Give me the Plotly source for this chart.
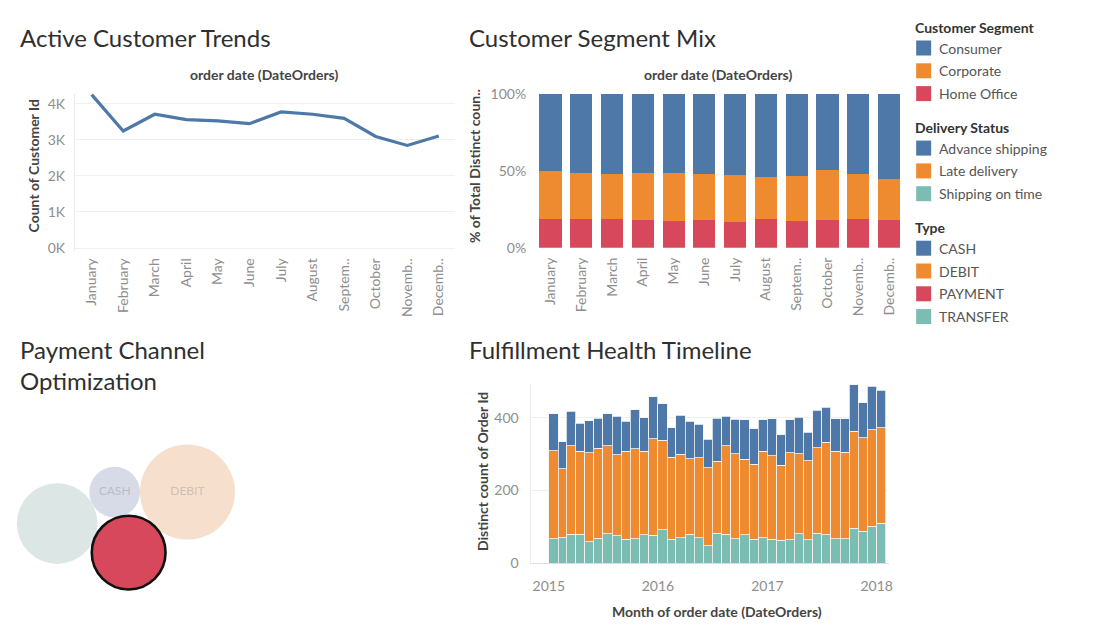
import math
import pandas as pd
import plotly.graph_objects as go

W, H = 1100, 641
FONT = "Lato"
# the page shows the paper area in a slightly smaller box (measured): map target pixels onto it
VIEW_W, VIEW_H, VIEW_TOP = 1097.0, 624.0, 8.5


def px(x):
    return x / VIEW_W


def py(y):
    return 1 - (y - VIEW_TOP) / VIEW_H


# ---------------- data ----------------
month_labels = ["January", "February", "March", "April", "May", "June", "July",
                "August", "Septem..", "October", "Novemb..", "Decemb.."]

active_customers = [4255, 3245, 3710, 3560, 3525, 3450, 3775, 3710, 3595, 3095, 2845, 3105]

segments = ["Consumer", "Corporate", "Home Office"]
consumer_pct = [50.4, 51.3, 52.0, 51.3, 51.3, 52.0, 52.6, 54.1, 53.5, 49.6, 52.0, 55.6]
corporate_pct = [31.2, 30.3, 29.6, 30.9, 31.2, 30.2, 30.7, 27.5, 29.0, 32.6, 29.6, 26.6]
home_office_pct = [18.4, 18.4, 18.4, 17.8, 17.5, 17.8, 16.7, 18.4, 17.5, 17.8, 18.4, 17.8]

delivery_statuses = ["Advance shipping", "Late delivery", "Shipping on time"]
timeline_start = "2015-01-01"
timeline_months = 37
shipping_on_time = [67, 71, 79, 79, 58, 68, 80, 75, 66, 67, 78, 77, 92, 66, 70, 79, 70, 48, 82, 79,
                    67, 78, 65, 70, 66, 63, 64, 80, 64, 82, 78, 67, 67, 96, 88, 101, 110]
late_delivery = [243, 189, 244, 229, 246, 249, 243, 223, 242, 248, 230, 265, 247, 226, 230, 208, 220,
                 215, 199, 244, 234, 208, 208, 238, 230, 207, 240, 221, 218, 236, 255, 241, 238, 268,
                 257, 266, 263]
advance_shipping = [102, 75, 95, 78, 88, 82, 89, 107, 83, 108, 93, 116, 100, 81, 108, 104, 93, 78, 118,
                    82, 96, 109, 97, 87, 102, 84, 91, 101, 79, 103, 97, 90, 93, 128, 97, 120, 103]

payment_types = ["CASH", "DEBIT", "PAYMENT", "TRANSFER"]
payment_counts = [19616, 69295, 41725, 49883]
labelled_types = ["CASH", "DEBIT"]
highlighted_type = "PAYMENT"

# ---------------- styles ----------------
BLUE = "#4e78a8"
ORANGE = "#ee8a30"
RED = "#d8485c"
TEAL = "#7bbdb2"
segment_colors = [BLUE, ORANGE, RED]
status_colors = [BLUE, ORANGE, TEAL]
type_colors = [BLUE, ORANGE, RED, TEAL]
faded_type_colors = {"CASH": "#d6dbe7", "DEBIT": "#f6e0cd", "PAYMENT": "#f3d3d7", "TRANSFER": "#dce7e5"}
TICK = dict(family=FONT, size=14, color="#8e8e8e")

fig = go.Figure()

# ---------- 1. Active Customer Trends ----------
fig.add_trace(go.Scatter(x=month_labels, y=active_customers, mode="lines",
                         line=dict(color=BLUE, width=3.2), xaxis="x", yaxis="y",
                         showlegend=False, hoverinfo="x+y"))

# ---------- 2. Customer Segment Mix (bottom -> top) ----------
for name, vals, col in [("Home Office", home_office_pct, RED),
                        ("Corporate", corporate_pct, ORANGE),
                        ("Consumer", consumer_pct, BLUE)]:
    fig.add_trace(go.Bar(x=month_labels, y=vals, name=name, marker=dict(color=col, line=dict(width=0)),
                         xaxis="x2", yaxis="y2", showlegend=False))

# ---------- 4. Fulfillment Health Timeline ----------
starts = pd.date_range(timeline_start, periods=timeline_months + 1, freq="MS")
mids = [starts[i] + (starts[i + 1] - starts[i]) / 2 for i in range(timeline_months)]
widths = [(starts[i + 1] - starts[i]).total_seconds() * 1000 for i in range(timeline_months)]
for name, vals, col in [("Shipping on time", shipping_on_time, TEAL),
                        ("Late delivery", late_delivery, ORANGE),
                        ("Advance shipping", advance_shipping, BLUE)]:
    fig.add_trace(go.Bar(x=mids, y=vals, width=widths, name=name,
                         marker=dict(color=col, line=dict(color="#f4f4f4", width=0.8)),
                         xaxis="x4", yaxis="y4", showlegend=False))

# ---------- 3. Payment Channel Optimization (packed bubbles) ----------
K = 0.1806  # px per sqrt(count)
radii = {t: K * math.sqrt(v) for t, v in zip(payment_types, payment_counts)}


def tangent(c1, r1, c2, r2, r, side):
    dx, dy = c2[0] - c1[0], c2[1] - c1[1]
    d = math.hypot(dx, dy)
    a = ((r1 + r) ** 2 - (r2 + r) ** 2 + d ** 2) / (2 * d)
    h = math.sqrt(max((r1 + r) ** 2 - a ** 2, 0))
    ux, uy = dx / d, dy / d
    return (c1[0] + a * ux - side * h * uy, c1[1] + a * uy + side * h * ux)


pos = {}
pos["CASH"] = (0.0, 0.0)
pos["DEBIT"] = (radii["CASH"] + radii["DEBIT"], 0.0)
pos["PAYMENT"] = tangent(pos["CASH"], radii["CASH"], pos["DEBIT"], radii["DEBIT"], radii["PAYMENT"], -1)
pos["TRANSFER"] = tangent(pos["CASH"], radii["CASH"], pos["PAYMENT"], radii["PAYMENT"], radii["TRANSFER"], -1)

xs_min = min(pos[t][0] - radii[t] for t in payment_types)
xs_max = max(pos[t][0] + radii[t] for t in payment_types)
ys_min = min(pos[t][1] - radii[t] for t in payment_types)
ys_max = max(pos[t][1] + radii[t] for t in payment_types)
cx, cy = (xs_min + xs_max) / 2, (ys_min + ys_max) / 2

draw_order = ["TRANSFER", "CASH", "DEBIT", "PAYMENT"]
fig.add_trace(go.Scatter(
    x=[pos[t][0] for t in draw_order],
    y=[pos[t][1] for t in draw_order],
    mode="markers+text",
    text=[t if t in labelled_types else "" for t in draw_order],
    textposition="middle center",
    textfont=dict(family=FONT, size=12, color="rgba(150,150,150,0.45)"),
    marker=dict(
        size=[2 * radii[t] for t in draw_order],
        color=[type_colors[payment_types.index(t)] if t == highlighted_type else faded_type_colors[t]
               for t in draw_order],
        line=dict(color=["#111111" if t == highlighted_type else "rgba(0,0,0,0)" for t in draw_order],
                  width=[2.6 if t == highlighted_type else 0 for t in draw_order]),
        opacity=1,
    ),
    xaxis="x3", yaxis="y3", showlegend=False, hovertext=draw_order, hoverinfo="text"))

# ---------------- layout ----------------
annotations = []


def text(x, y, s, size=13, color="#444", xanchor="left", angle=0, weight="normal"):
    annotations.append(dict(x=px(x), y=py(y), xref="paper", yref="paper", text=s, showarrow=False,
                            xanchor=xanchor, yanchor="middle", textangle=angle,
                            font=dict(family=FONT, size=size, color=color, weight=weight)))


TITLE_C = "#2f2f2f"
text(18, 37, "Active Customer Trends", 24, TITLE_C)
text(467, 37, "Customer Segment Mix", 24, TITLE_C)
text(18, 349, "Payment Channel", 24, TITLE_C)
text(18, 380, "Optimization", 24, TITLE_C)
text(467, 349, "Fulfillment Health Timeline", 24, TITLE_C)

text(264, 74, "order date (DateOrders)", 14, "#444", "center", weight="bold")
text(719, 74, "order date (DateOrders)", 14, "#444", "center", weight="bold")
text(34, 165, "Count of Customer Id", 14, "#444", "center", -90, weight="bold")
text(475, 166, "% of Total Distinct coun..", 14, "#444", "center", -90, weight="bold")
text(483, 471, "Distinct count of Order Id", 14, "#444", "center", -90, weight="bold")
text(718, 611, "Month of order date (DateOrders)", 14, "#444", "center", weight="bold")

shapes = []
legend_groups = [("Customer Segment", segments, segment_colors),
                 ("Delivery Status", delivery_statuses, status_colors),
                 ("Type", payment_types, type_colors)]
yy = 27
for title, items, cols in legend_groups:
    text(914, yy, title, 14, "#333", weight="bold")
    yy += 20.5
    for it, col in zip(items, cols):
        shapes.append(dict(type="rect", xref="paper", yref="paper", x0=px(917), x1=px(932),
                           y0=py(yy + 7.5), y1=py(yy - 7.5), fillcolor=col, line=dict(width=0)))
        text(938, yy, it, 14, "#555")
        yy += 22.8
    yy += 11.2

fig.update_layout(
    width=W, height=H, margin=dict(l=0, r=0, t=0, b=0),
    paper_bgcolor="white", plot_bgcolor="rgba(0,0,0,0)",
    showlegend=False, barmode="stack", bargap=0.28,
    font=dict(family=FONT),
    annotations=annotations, shapes=shapes,
    xaxis=dict(domain=[px(75), px(455)], anchor="y", type="category", range=[-0.53, 11.5],
               tickangle=-90, tickfont=TICK, showgrid=False, showline=False, zeroline=False,
               ticks="", ticklabelstandoff=4),
    yaxis=dict(domain=[py(250), py(93)], anchor="x", range=[-69, 4286],
               tickvals=[0, 1000, 2000, 3000, 4000], ticktext=["0K", "1K", "2K", "3K", "4K"],
               tickfont=TICK, showgrid=True, gridcolor="#f0f0f0", gridwidth=1, zeroline=False,
               showline=True, linecolor="#ebebeb", ticks="", ticklabelstandoff=6),
    xaxis2=dict(domain=[px(535.6), px(905.2)], anchor="y2", type="category", range=[-0.5, 11.5],
                tickangle=-90, tickfont=TICK, showgrid=False, showline=False, zeroline=False,
                ticks="", ticklabelstandoff=6),
    yaxis2=dict(domain=[py(247.3), py(93.3)], anchor="x2", range=[0, 100],
                tickvals=[0, 50, 100], ticktext=["0%", "50%", "100%"], tickfont=TICK, showgrid=False,
                zeroline=False, showline=False, ticks="", ticklabelstandoff=8),
    xaxis3=dict(domain=[px(0), px(260)], anchor="y3", range=[cx - 126, cx + 134], visible=False),
    yaxis3=dict(domain=[py(630), py(400)], anchor="x3", range=[cy - 113.5, cy + 116.5], visible=False),
    xaxis4=dict(domain=[px(531), px(890)], anchor="y4", type="date",
                range=["2014-11-01", "2018-02-12"], tick0="2015-01-01", dtick="M12", tickformat="%Y",
                tickfont=TICK, showgrid=False, showline=True, linecolor="#dedede", zeroline=False,
                ticks="", ticklabelstandoff=10),
    yaxis4=dict(domain=[py(562.5), py(383)], anchor="x4", range=[0, 495],
                tickvals=[0, 200, 400], tickfont=TICK, showgrid=True, gridcolor="#f0f0f0",
                zeroline=False, showline=True, linecolor="#ececec", ticks="", ticklabelstandoff=8),
)

fig.write_html("out.html")
